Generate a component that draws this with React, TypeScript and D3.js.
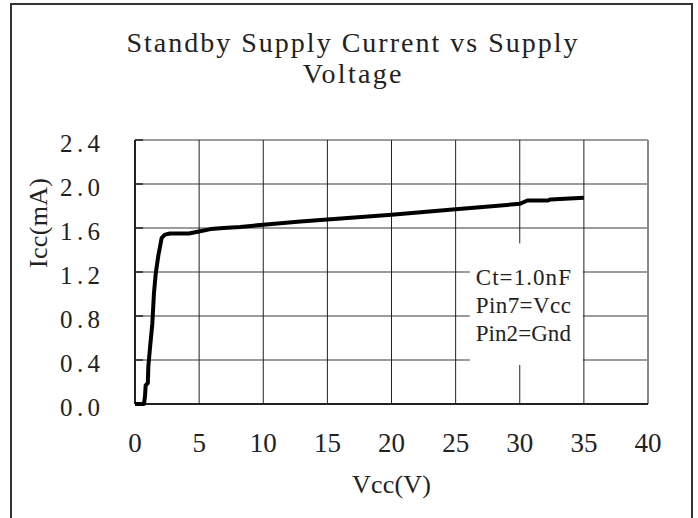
import { useEffect, useRef } from "react"
import * as d3 from "d3"

// Standby supply current vs supply voltage
const vccValues = [0, 0.7, 0.78, 0.83, 1.0, 1.04, 1.17, 1.35, 1.48, 1.62, 1.82, 2.08, 2.34, 2.73, 4.2, 5.08, 5.9, 6.9, 8.2, 10, 12.9, 20, 25, 30, 30.6, 32.2, 32.4, 35]
const iccValues = [0, 0, 0.07, 0.17, 0.19, 0.34, 0.51, 0.73, 1.01, 1.19, 1.35, 1.51, 1.54, 1.55, 1.55, 1.57, 1.59, 1.6, 1.61, 1.63, 1.66, 1.72, 1.77, 1.82, 1.85, 1.85, 1.86, 1.875]

const xTicks = [0, 5, 10, 15, 20, 25, 30, 35, 40]
const yTicks = [0, 0.4, 0.8, 1.2, 1.6, 2.0, 2.4]
const titleLines = ["Standby Supply Current vs Supply", "Voltage"]
const legendLines = ["Ct=1.0nF", "Pin7=Vcc", "Pin2=Gnd"]

const FONT = "Liberation Serif, Times New Roman, DejaVu Serif, serif"

export default function App() {
    const ref = useRef<SVGSVGElement>(null)

    useEffect(() => {
        const width = 698
        const height = 518
        const marginLeft = 135
        const marginRight = 50
        const marginTop = 140
        const marginBottom = 114

        const svg = d3.select(ref.current)
        svg.selectAll('*').remove()

        svg.append('rect')
            .attr('width', width)
            .attr('height', height)
            .attr('fill', 'white')

        // outer frame (bottom edge runs off the picture)
        svg.append('path')
            .attr('d', `M11,${height + 5}V4H692V${height + 5}`)
            .attr('fill', 'none')
            .attr('stroke', '#333')
            .attr('stroke-width', 2)

        const x = d3.scaleLinear()
            .domain([0, 40])
            .range([marginLeft, width - marginRight])

        const y = d3.scaleLinear()
            .domain([0, 2.4])
            .range([height - marginBottom, marginTop])

        const plot = svg.append('g')

        // horizontal grid
        plot.append('g')
            .selectAll('line')
            .data(yTicks)
            .join('line')
                .attr('x1', x(0))
                .attr('x2', x(40))
                .attr('y1', d => y(d))
                .attr('y2', d => y(d))
                .attr('stroke', '#7a7a7a')
                .attr('stroke-width', 1.5)

        // vertical grid
        plot.append('g')
            .selectAll('line')
            .data(xTicks)
            .join('line')
                .attr('x1', d => x(d))
                .attr('x2', d => x(d))
                .attr('y1', y(0))
                .attr('y2', y(2.4))
                .attr('stroke', d => d === 40 ? '#888' : '#222')
                .attr('stroke-width', d => d === 40 ? 2 : 1)

        // left and bottom axis lines + inside tick stubs
        plot.append('line')
            .attr('x1', x(0)).attr('x2', x(0))
            .attr('y1', y(0)).attr('y2', y(2.4))
            .attr('stroke', '#222').attr('stroke-width', 2)
        plot.append('line')
            .attr('x1', x(0)).attr('x2', x(40))
            .attr('y1', y(0)).attr('y2', y(0))
            .attr('stroke', '#222').attr('stroke-width', 2)
        plot.append('g')
            .selectAll('line')
            .data(yTicks)
            .join('line')
                .attr('x1', x(0))
                .attr('x2', x(0) + 8)
                .attr('y1', d => y(d))
                .attr('y2', d => y(d))
                .attr('stroke', '#222')
                .attr('stroke-width', 1.5)

        // legend box, white, covers the grid
        const legendX = x(26.1)
        const legendY = y(1.46)
        svg.append('rect')
            .attr('x', legendX)
            .attr('y', legendY)
            .attr('width', x(35) - 1 - legendX)
            .attr('height', y(0.355) - legendY)
            .attr('fill', 'white')

        svg.append('g')
            .style('font-family', FONT)
            .attr('font-size', 23)
            .attr('fill', '#222')
            .selectAll('text')
            .data(legendLines)
            .join('text')
                .attr('x', legendX + 6)
                .attr('y', (_, i) => legendY + 42 + i * 28)
                .attr('textLength', d => d.length * 11.9)
                .attr('lengthAdjust', 'spacing')
                .text(d => d)

        // the curve
        const line = d3.line<number>()
            .x(d => x(d))
            .y((_, i) => y(iccValues[i]))
        svg.append('path')
            .datum(vccValues)
            .attr('d', line)
            .attr('fill', 'none')
            .attr('stroke', 'black')
            .attr('stroke-width', 4)
            .attr('stroke-linejoin', 'round')

        // y tick labels
        svg.append('g')
            .style('font-family', FONT)
            .attr('font-size', 25)
            .attr('fill', '#222')
            .attr('text-anchor', 'end')
            .selectAll('text')
            .data(yTicks)
            .join('text')
                .attr('x', 100)
                .attr('y', d => y(d) + 12)
                .attr('textLength', 40)
                .attr('lengthAdjust', 'spacing')
                .text(d => d3.format('.1f')(d))

        // x tick labels
        svg.append('g')
            .style('font-family', FONT)
            .attr('font-size', 27)
            .attr('fill', '#222')
            .attr('text-anchor', 'middle')
            .selectAll('text')
            .data(xTicks)
            .join('text')
                .attr('x', d => x(d))
                .attr('y', y(0) + 48)
                .text(d => d)

        // axis titles
        svg.append('text')
            .style('font-family', FONT)
            .attr('font-size', 26)
            .attr('fill', '#222')
            .attr('text-anchor', 'middle')
            .attr('x', (x(0) + x(40)) / 2)
            .attr('y', y(0) + 89)
            .attr('textLength', 79)
            .attr('lengthAdjust', 'spacing')
            .text('Vcc(V)')

        svg.append('text')
            .style('font-family', FONT)
            .attr('font-size', 26)
            .attr('fill', '#222')
            .attr('text-anchor', 'middle')
            .attr('transform', 'translate(47,223)rotate(-90)')
            .attr('textLength', 90)
            .attr('lengthAdjust', 'spacing')
            .text('Icc(mA)')

        // title
        svg.append('g')
            .style('font-family', FONT)
            .attr('font-size', 28)
            .attr('fill', '#222')
            .attr('text-anchor', 'middle')
            .selectAll('text')
            .data(titleLines)
            .join('text')
                .attr('x', 352)
                .attr('y', (_, i) => 52 + i * 31)
                .attr('textLength', d => d.length * 14.1)
                .attr('lengthAdjust', 'spacing')
                .text(d => d)
    }, [])

    return (
        <svg ref={ref} width={698} height={518}
            style={{ position: 'absolute', left: 0, top: 0, display: 'block' }} />
    )
}
